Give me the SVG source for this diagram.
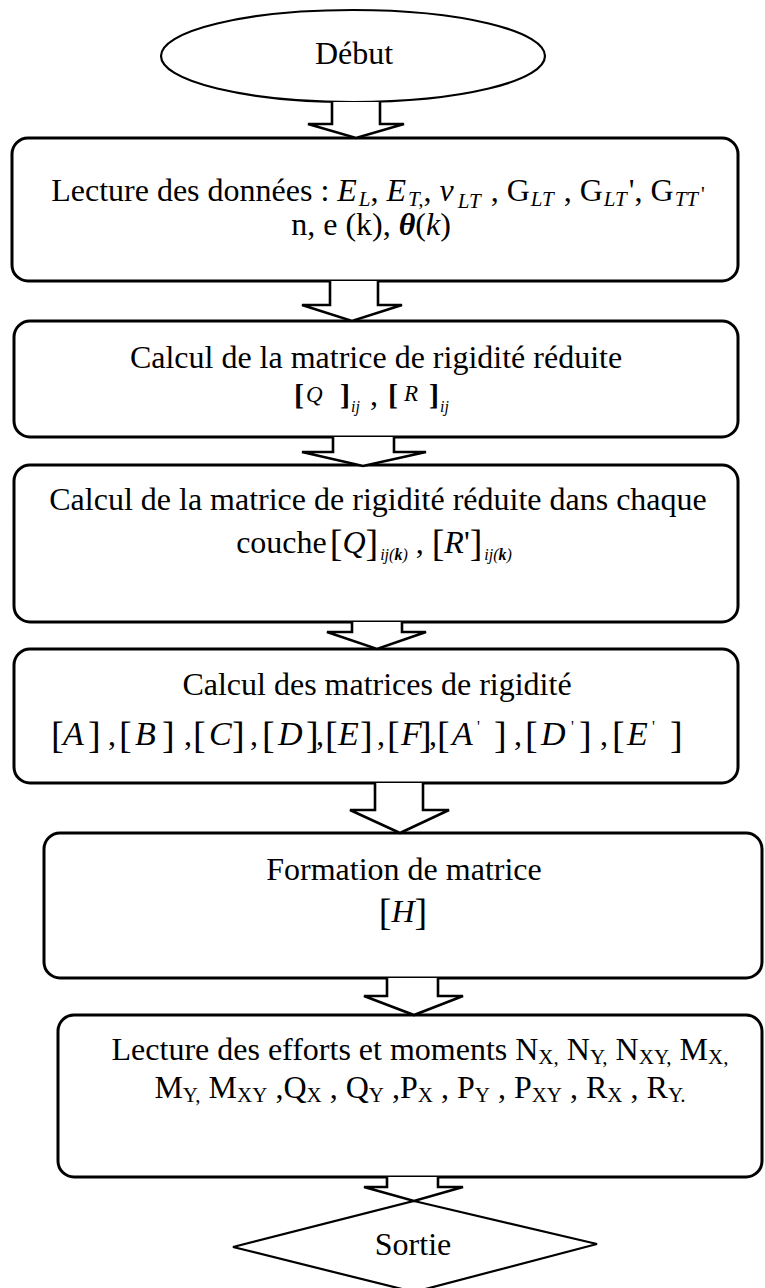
<svg xmlns="http://www.w3.org/2000/svg" width="765" height="1288" viewBox="0 0 765 1288">
<style>
.n{fill:#fff;stroke:#000;stroke-width:3}
.e{fill:#fff;stroke:#000;stroke-width:2.2}
.c{fill:#fff;stroke:#000;stroke-width:2.6;stroke-linejoin:miter}
text{font-family:"Liberation Serif","Times New Roman",serif;font-size:32px;fill:#000;text-anchor:middle}
.l{text-anchor:start}
.i{font-style:italic}
.s{font-size:21px}
.s15{font-size:16px}
.s22{font-size:23px}
.br{font-size:38px}
.bb{font-weight:bold;font-size:30px}
.big{font-size:34px}
</style>
<rect width="765" height="1288" fill="#fff"/>
<g id="debut">
<ellipse class="e" cx="353" cy="56" rx="192" ry="46"/>
<text x="354" y="64">Début</text>
</g>
<g id="lecture-donnees">
<rect class="n" x="12" y="138" width="726" height="143" rx="16"/>
<text x="378" y="201">Lecture des données : <tspan class="i">E</tspan><tspan class="i s" dx="2" dy="5">L</tspan><tspan dy="-5">, </tspan><tspan class="i">E</tspan><tspan class="i s" dx="2" dy="5">T,</tspan><tspan dy="-5">, </tspan><tspan class="i">ν</tspan><tspan class="i s" dx="4" dy="7">LT</tspan><tspan dx="2" dy="-7"> , G</tspan><tspan class="i s" dx="1" dy="5">LT</tspan><tspan dx="2" dy="-5"> , G</tspan><tspan class="i s" dx="1" dy="5">LT</tspan><tspan dx="2" dy="-5">', G</tspan><tspan class="i s" dx="1" dy="5">TT</tspan><tspan class="s" dx="3" dy="-5">'</tspan></text>
<text x="371" y="235">n, e (k), <tspan class="i" font-weight="bold">θ</tspan>(<tspan class="i">k</tspan>)</text>
</g>
<g id="matrice-reduite">
<rect class="n" x="14" y="321" width="724" height="116" rx="16"/>
<text x="376" y="368">Calcul de la matrice de rigidité réduite</text>
<text class="l" x="294" y="405"><tspan class="bb">[</tspan><tspan class="i s22" x="306" y="402">Q</tspan><tspan class="bb" x="340" y="405">]</tspan><tspan class="i s15" x="351" y="412">ij</tspan><tspan x="370" y="405">,</tspan><tspan class="bb" x="388" y="405">[</tspan><tspan class="i s22" x="404" y="401">R</tspan><tspan class="bb" x="429" y="405">]</tspan><tspan class="i s15" x="440" y="412">ij</tspan></text>
</g>
<g id="matrice-couche">
<rect class="n" x="14" y="465" width="724" height="157" rx="16"/>
<text x="378" y="510">Calcul de la matrice de rigidité réduite dans chaque</text>
<text x="374" y="553">couche<tspan class="br" dx="3" dy="3">[</tspan><tspan class="i" dy="-3">Q</tspan><tspan class="br" dy="3">]</tspan><tspan class="i s15" dy="4" dx="2">ij(<tspan font-weight="bold">k</tspan>)</tspan><tspan dy="-7"> , </tspan><tspan class="br" dy="3">[</tspan><tspan class="i" dy="-3">R</tspan>'<tspan class="br" dy="3">]</tspan><tspan class="i s15" dy="4" dx="2">ij(<tspan font-weight="bold">k</tspan>)</tspan></text>
</g>
<g id="matrices-rigidite">
<rect class="n" x="14" y="649" width="724" height="134" rx="16"/>
<text x="377" y="695">Calcul des matrices de rigidité</text>
<text class="l" x="51" y="748"><tspan class="br">[</tspan><tspan class="i big" x="63" y="745">A</tspan><tspan class="br" x="88" y="748">]</tspan><tspan x="108" y="745">,</tspan><tspan class="br" x="119" y="748">[</tspan><tspan class="i big" x="135" y="745">B</tspan><tspan class="br" x="162" y="748">]</tspan><tspan x="184" y="745">,</tspan><tspan class="br" x="193" y="748">[</tspan><tspan class="i big" x="209" y="745">C</tspan><tspan class="br" x="232" y="748">]</tspan><tspan x="250" y="745">,</tspan><tspan class="br" x="262" y="748">[</tspan><tspan class="i big" x="278" y="745">D</tspan><tspan class="br" x="306" y="748">]</tspan><tspan x="316" y="745">,</tspan><tspan class="br" x="325" y="748">[</tspan><tspan class="i big" x="338" y="745">E</tspan><tspan class="br" x="360" y="748">]</tspan><tspan x="377" y="745">,</tspan><tspan class="br" x="387" y="748">[</tspan><tspan class="i big" x="401" y="745">F</tspan><tspan class="br" x="419" y="748">]</tspan><tspan x="429" y="745">,</tspan><tspan class="br" x="437" y="748">[</tspan><tspan class="i big" x="452" y="745">A</tspan><tspan class="s15" x="477" y="732">'</tspan><tspan class="br" x="494" y="748">]</tspan><tspan x="514" y="745">,</tspan><tspan class="br" x="525" y="748">[</tspan><tspan class="i big" x="541" y="745">D</tspan><tspan class="s15" x="571" y="732">'</tspan><tspan class="br" x="579" y="748">]</tspan><tspan x="600" y="745">,</tspan><tspan class="br" x="612" y="748">[</tspan><tspan class="i big" x="627" y="745">E</tspan><tspan class="s15" x="652" y="732">'</tspan><tspan class="br" x="670" y="748">]</tspan></text>
</g>
<g id="formation-matrice">
<rect class="n" x="44" y="833" width="718" height="145" rx="16"/>
<text x="404" y="880">Formation de matrice</text>
<text x="403" y="922"><tspan class="br" dy="3">[</tspan><tspan class="i" dy="-3">H</tspan><tspan class="br" dy="3">]</tspan></text>
</g>
<g id="lecture-efforts">
<rect class="n" x="58" y="1015" width="704" height="162" rx="16"/>
<text x="420" y="1060">Lecture des efforts et moments N<tspan class="s" dy="4">X,</tspan><tspan dy="-4"> N</tspan><tspan class="s" dy="4">Y,</tspan><tspan dy="-4"> N</tspan><tspan class="s" dy="4">XY,</tspan><tspan dy="-4"> M</tspan><tspan class="s" dy="4">X,</tspan></text>
<text x="420" y="1098">M<tspan class="s" dy="4">Y,</tspan><tspan dy="-4"> M</tspan><tspan class="s" dy="4">XY</tspan><tspan dy="-4"> ,Q</tspan><tspan class="s" dy="4">X</tspan><tspan dy="-4"> , Q</tspan><tspan class="s" dy="4">Y</tspan><tspan dy="-4"> ,P</tspan><tspan class="s" dy="4">X</tspan><tspan dy="-4"> , P</tspan><tspan class="s" dy="4">Y</tspan><tspan dy="-4"> , P</tspan><tspan class="s" dy="4">XY</tspan><tspan dy="-4"> , R</tspan><tspan class="s" dy="4">X</tspan><tspan dy="-4"> , R</tspan><tspan class="s" dy="4">Y.</tspan></text>
</g>
<g id="sortie">
<polygon class="e" points="414,1201 597,1244 414,1292 233,1247"/>
<text x="413" y="1255">Sortie</text>
</g>
<g id="connectors">
<path class="c" d="M332,102 L332,124 L308,124 L356,138 L404,124 L380,124 L380,102"/>
<path class="c" d="M330,281 L330,305 L302,305 L352,321 L402,305 L378,305 L378,281"/>
<path class="c" d="M333,437 L333,452 L302,452 L363,466 L426,452 L394,452 L394,437"/>
<path class="c" d="M352,622 L352,632 L327,632 L377,649 L426,632 L402,632 L402,622"/>
<path class="c" d="M375,783 L375,810 L350,810 L400,833 L449,810 L423,810 L423,783"/>
<path class="c" d="M387,978 L387,996 L364,996 L414,1015 L463,996 L438,996 L438,978"/>
<path class="c" d="M387,1177 L387,1187 L364,1187 L414,1201 L463,1187 L438,1187 L438,1177"/>
</g>
</svg>
